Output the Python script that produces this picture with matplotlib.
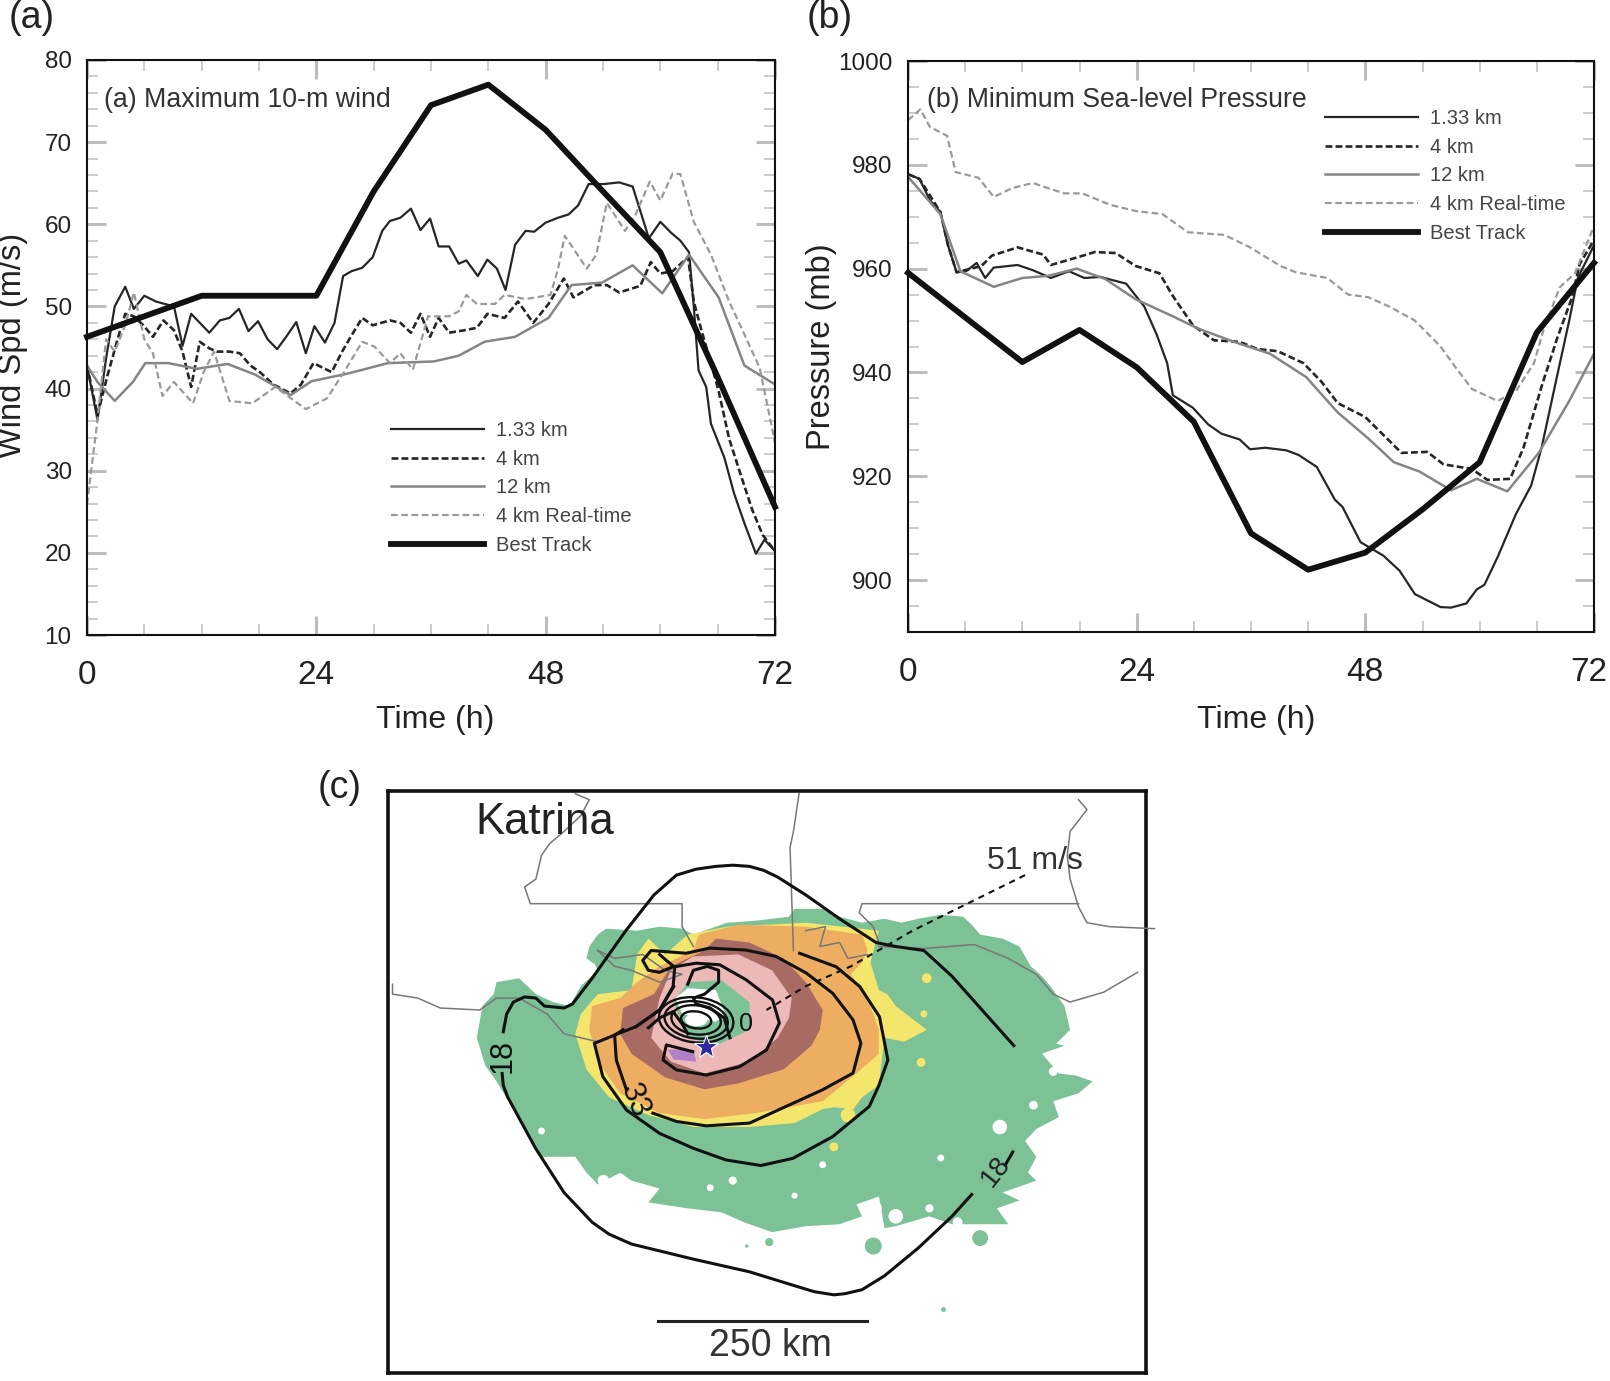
import matplotlib
matplotlib.use('Agg')
import matplotlib.pyplot as plt
from matplotlib.patches import Ellipse
from matplotlib.ticker import MultipleLocator
from matplotlib.transforms import ScaledTranslation

plt.rcParams['font.family'] = ['Liberation Sans', 'DejaVu Sans']

W, H = 1610, 1381

# ======================
# PANEL (a) - max wind
# ======================
a_t_133 = [0,1.1,2,2.9,4,4.9,6,7.2,9.1,10,10.9,12.8,13.9,14.9,15.9,16.9,17.9,18.9,19.9,20.9,21.9,22.9,23.8,24.9,25.9,26.8,27.7,28.8,29.9,30.9,31.7,32.8,33.9,34.9,35.9,36.8,37.9,38.9,39.7,40.9,41.9,42.9,43.8,44.8,45.9,46.8,48,49.3,50.4,51.4,52.5,54.1,55.7,57.1,58.8,60,61.1,62.1,63,63.5,64,64.8,65.3,66.7,67.7,68.8,70,70.9,72]
a_v_133 = [42.8,36.2,43.7,50,52.4,49.7,51.3,50.6,50,45.2,49.1,46.8,48.3,48.6,49.7,47,48.2,46,44.8,46.4,48.1,44.3,47.6,45.6,48,53.7,54.3,54.7,56,59.2,60.4,60.8,61.9,59.3,60.7,57.3,57.3,55.2,55.6,53.7,55.7,54.6,52,57.5,59.2,59.1,60.2,60.8,61.2,62.3,64.9,64.9,65.1,64.6,58.3,60.3,59,58,56.6,50,42.2,40.2,35.7,31.6,27.3,23.6,19.9,21.6,20.2]
a_t_4 = [0,1.1,2.1,3.2,4,4.9,5.9,6.9,8,9.1,10,10.9,11.8,12.8,13.6,14.9,16,17.1,18.1,19.5,21.3,22.4,23.7,25.6,26.7,27.7,28.8,29.9,31.7,32.8,33.9,34.9,35.9,36.8,37.9,39.5,40.8,41.9,43.7,45.1,46.7,48.3,49.9,50.9,53.1,54.4,55.7,57.9,59,60,61.3,62.9,63.5,64.3,65.3,66.1,67.2,68.3,69.6,70.7,72]
a_v_4 = [42.8,36.8,41.4,46,49.1,48.8,47.7,46.3,48.3,47.1,44.5,40.2,45.7,44.9,44.5,44.5,44.3,42.8,42,40.5,39.4,40.5,43.1,42,44.5,46.5,48.6,47.7,48.3,48,46.8,49.1,46.3,48.6,46.8,47.1,47.4,49.1,48.6,50.6,48,50.3,53.4,51.1,52.6,52.6,51.7,52.5,55.4,54,54.3,56,50.6,47.1,43.1,39.7,33.9,29.9,25.3,22.2,20.2]
a_t_12 = [0,1.1,2.9,4.8,6.1,8.5,11.5,14.7,17.6,21.3,23.5,27.2,31.5,36.3,38.9,41.6,44.8,48.3,50.7,53.9,57.1,60.2,63,66.1,68.8,72]
a_v_12 = [42.8,40.8,38.5,40.8,43.1,43.1,42.4,43,41.7,39.2,40.9,41.8,43.1,43.3,44,45.7,46.3,48.6,52.6,52.9,55,51.6,56.3,51.1,42.8,40.5]
a_t_rt = [0,1.1,2,2.9,4,4.9,6,6.9,7.9,9.1,11.1,12.2,13.3,14.9,17.3,19.7,22.9,25.1,26.9,28.8,30.1,31.7,32.8,34.1,35.7,37.9,38.9,39.7,40.8,42.7,43.7,45.9,48.5,49.3,50,52.3,53.3,54.4,56.3,57.3,58.9,60,61.3,62.1,63.5,65.3,67.2,68.8,70.4,72]
a_v_rt = [25.9,36.2,46,44.5,47.7,51.7,46,44.3,39.1,40.8,38.2,42,44.5,38.5,38.2,40.2,37.5,38.8,42,45.7,45.1,43.1,44.3,42.3,48.8,48.8,49.4,51.4,50.3,50.3,51.4,50.9,51.4,54.6,58.6,54.6,56.3,62.6,59.2,60.9,65.2,62.9,66.2,66.1,60.3,56.3,50.6,46.6,42.5,33.4]
a_t_best = [0,12,24,30,36,42,48,54,60,66,72]
a_v_best = [46.3,51.3,51.3,64,74.5,77,71.5,64,56.6,41.4,25.6]

# ======================
# PANEL (b) - min pressure
# ======================
b_t_133 = [0,1.2,2.3,3.4,4.2,5.1,6.1,7.2,8.1,9,11.5,13.1,15,16.9,18.5,20.2,22.9,24.8,26.1,27.2,27.8,29.9,31.5,32.9,34.8,35.9,37.5,39.7,41,42.9,44.8,45.6,47.5,49.9,51.6,53.2,55.9,57,58.6,59.7,60.5,61.9,63.8,65.4,66.5,68.1,69.4,70.3,72]
b_p_133 = [978.2,977.3,973.2,970.9,964.5,959.3,959.5,961.1,958.2,960.2,960.7,959.7,958.2,959.5,958.2,958.4,957.1,952.7,947.3,941.8,935.6,933.2,930,928.2,927.1,925.2,925.5,925,924.1,921.8,915.5,914.1,907.3,904.7,901.8,897.3,894.8,894.7,895.5,898.2,899.1,904.5,912.7,918.2,925.5,939.1,950,958.2,964.5]
b_t_4 = [0,1.2,3.4,4.2,5.1,7.7,8.8,11.5,14.2,15,18,19.6,21.8,23.9,26.4,27.7,29.9,32.1,34.8,36.7,38.8,41.5,43.4,45.1,48,51.8,54.5,56.2,59.2,60.8,63.2,64.6,66.5,68.1,69.7,70.5,72]
b_p_4 = [978.2,977.3,970.9,964.5,959.3,960.5,962.5,964.1,962.7,960.7,962.3,963.2,963,960.5,959.1,955,949.1,946.2,945.9,944.5,944.1,941.8,938.2,934.1,931.4,924.5,924.7,922.3,921.4,919.3,919.5,925.5,937.3,946.4,954.5,960.9,965.5]
b_t_12 = [0,3.4,5.5,9,12,14.7,17.7,20.7,23.9,27.7,30.4,34.2,38,41.8,45.1,48.3,51,53.7,57,59.7,62.9,66.2,69.4,72]
b_p_12 = [977.7,970.5,959.5,956.5,958.2,958.6,960,958,954.1,950.9,948.5,945.9,943.6,939.1,932.3,927.3,922.7,920.9,917.3,919.5,917.1,924.5,934.5,943.6]
b_t_rt = [0,1.3,2.3,4.1,5,7.4,9,10.9,13.1,14.7,16.4,18.3,21.2,23.9,26.7,29.4,33.2,35.9,39.1,40.7,44,46.2,48.3,50.5,53.2,55.9,57.5,59.2,61.9,63.8,65.7,66.7,68.4,70,72]
b_p_rt = [988.6,990.7,987.3,985.6,978.6,977.5,973.8,975.5,976.5,975.5,974.5,974.5,972.3,971.1,970.5,967,966.5,964.1,960.5,959.3,958.2,955,954.5,952.7,950,945,940.9,936.8,934.5,936.4,941.8,948.2,956.4,959.1,968.2]
b_t_best = [0,12,18,24,30,36,42,48,54,60,66,72]
b_p_best = [959.2,942,948.2,941,930.5,909,902,905.3,913.6,922.7,947.7,961.1]

series_labels = ['1.33 km', '4 km', '12 km', '4 km Real-time', 'Best Track']

# ======================
# PANEL (c) - map, traced outlines
# ======================
green_x = [320,325,345,350,390,405,420,450,480,490,500,530,525,510,515,530,545,600,640,680,700,730,760,810,870,880,930,960,1000,1040,1070,1100,1140,1180,1195,1210,1250,1280,1290,1300,1320,1335,1360,1370,1345,1360,1320,1335,1350,1380,1410,1385,1340,1350,1310,1290,1310,1295,1310,1250,1280,1240,1260,1210,1160,1120,1060,1040,1030,990,1000,960,900,840,790,750,690,620,640,590,570,530,510,490,430,410,380,350,330,315]
green_y = [660,620,590,560,550,570,590,610,620,595,570,530,515,500,470,440,425,430,420,425,440,425,410,405,395,375,375,395,410,400,410,400,390,395,415,440,450,470,495,520,545,570,620,680,715,720,740,765,790,795,810,840,860,900,930,960,1000,1040,1060,1090,1110,1130,1170,1170,1170,1150,1175,1180,1100,1120,1150,1170,1175,1190,1165,1140,1130,1115,1080,1060,1040,1070,1040,1000,1000,950,880,810,770,700]
yellow_x = [490,500,530,590,600,620,650,690,760,900,1030,1015,1030,1045,1060,1115,1075,1040,1030,1000,985,950,930,880,800,700,620,550,510]
yellow_y = [690,640,590,580,490,450,490,440,420,410,430,510,580,590,620,680,710,700,820,850,880,875,880,915,925,925,895,850,780]
orange_x = [515,520,570,600,640,700,710,780,900,1000,1010,1000,980,1010,1030,1030,990,930,810,720,640,570,530]
orange_y = [680,620,600,560,520,480,440,415,420,440,480,510,540,600,680,740,790,860,890,905,890,840,760]
brown_x = [570,575,630,660,720,740,800,860,900,930,925,910,860,780,720,650,590]
brown_y = [690,625,590,520,480,450,460,500,560,630,680,720,780,815,830,800,740]
pink_x = [625,640,660,700,780,840,875,870,850,800,720,660]
pink_y = [700,600,530,495,490,530,600,650,700,760,790,760]
core_x = [665,690,750,800,800,740,690]
core_y = [610,560,555,610,680,720,700]
eye_x = [668,690,740,757,740,680]
eye_y = [600,575,580,640,660,640]
purple_x = [655,700,705,665]
purple_y = [730,730,760,755]

hole_x = [430,1245,1140,1340,1305,770,730,880,930,540,1020,1060,1170,1120]
hole_y = [935,925,1003,785,870,1060,1078,1098,1020,1060,1130,1150,1165,1130]
hole_s = [25,110,25,40,40,35,25,20,25,70,150,110,50,35]
spot_x = [835,1020,1210,1145,795]
spot_y = [1215,1225,1205,1385,1225]
spot_s = [35,150,130,12,6]
yellow_spot_x = [1105,1115,1025,975,950,1110,995]
yellow_spot_y = [762,550,715,895,975,640,825]
yellow_spot_s = [40,50,70,110,40,25,90]

c18_x = [1195,1160,1100,1040,1000,970,950,915,880,800,700,590,550,520,470,420,370,362,360]
c18_y = [1095,1150,1230,1300,1335,1345,1348,1340,1325,1290,1258,1220,1195,1165,1090,980,850,820,790]
c18b_x = [362,368,380,400,420,435,470,485,520,580,605,630,650,670,705,740,770,800,825,850,900,960,1025,1060,1110,1160,1270]
c18b_y = [685,640,610,597,600,620,625,615,550,430,385,340,315,290,275,268,265,268,278,295,340,400,460,470,480,545,720]
c18c_x = [1268,1255]
c18c_y = [988,1020]
c26_x = [889,954,996,1031,1046,1030,1013,948,877,820,758,699,640,581,539,524,557,598,640,665]
c26_y = [487,521,571,647,756,820,873,949,1004,1022,1008,978,941,882,798,714,695,672,630,571]
c33_x = [628,670,723,800,865,930,984,998,984,948,901,847,794,729,687,652,625,610,620,640,665,652,640]
c33_y = [890,911,922,915,873,831,789,714,655,588,537,495,479,474,487,483,480,505,530,535,520,505,490]
c33b_x = [581,563,560,575]
c33b_y = [831,756,693,680]
c42_x = [699,652,646,670,723,782,830,853,841,794,747,705,667,664,640,598]
c42_y = [735,718,756,781,794,773,731,663,605,554,516,512,521,571,630,672]
c42b_x = [620,640,664,680,690]
c42b_y = [675,650,634,665,690]
curl_x = [690,700,725,745,745,720,700,705,730,755,765]
curl_y = [565,530,520,530,560,590,600,615,625,650,700]

ring_w = [55,90,115,135]
ring_h = [42,72,92,112]
ring_cx = 705
ring_cy = 655

line_coast_x = [490,515,500,470,445,430,420,400,410,680,680,700]
line_coast_y = [85,100,140,180,210,240,300,320,362,362,420,470]
line_border_x = [888,878,872,878]
line_border_y = [85,180,220,480]
line_east_x = [1385,1400,1370,1365,1370,1385,1400,1440,1520]
line_east_y = [100,125,180,240,300,370,410,420,425]
line_mid_x = [1030,1020,995,1000,1385]
line_mid_y = [460,420,385,362,362]
line_wcoast_x = [165,165,210,250,320,350,390,440,470,500,530]
line_wcoast_y = [565,590,600,625,630,600,600,640,690,700,710]
line_ecoast_x = [1030,1110,1200,1260,1310,1340,1370,1430,1490]
line_ecoast_y = [470,475,465,500,540,590,610,585,535]
line_inner_x = [900,935,925,960,975,1010]
line_inner_y = [430,420,470,460,500,490]
line_delta_x = [530,560,610,650,680,640,590,560,530]
line_delta_y = [480,500,490,530,540,560,530,520,480]

track_x = [1290,1190,1090,980,900,830]
track_y = [290,360,430,520,570,630]
scale_x = [637,1008]
scale_y = [1414,1414]
star_x = [722]
star_y = [724]

# ======================
# FUNCTIONS
# ======================

def axes_px(fig, left, top, right, bottom):
    return fig.add_axes([left / W, 1 - bottom / H, (right - left) / W, (bottom - top) / H])


def style_time_axes(ax, ylim, y_major, y_minor):
    ax.set_xlim(0, 72)
    ax.set_ylim(*ylim)
    ax.xaxis.set_major_locator(MultipleLocator(24))
    ax.xaxis.set_minor_locator(MultipleLocator(6))
    ax.yaxis.set_major_locator(MultipleLocator(y_major))
    ax.yaxis.set_minor_locator(MultipleLocator(y_minor))
    ax.tick_params(which='major', direction='in', top=True, right=True, length=14,
                   width=2.2, color='#bdbdbd')
    ax.tick_params(which='minor', direction='in', top=True, right=True, length=8,
                   width=1.2, color='#c4c4c4')
    ax.tick_params(axis='x', which='major', labelsize=24, labelcolor='#222222', pad=18)
    ax.tick_params(axis='y', which='major', labelsize=17.5, labelcolor='#222222', pad=11)
    for s in ax.spines.values():
        s.set_linewidth(1.5)
        s.set_color('#111111')


def draw_lines(ax, sets):
    styles = [dict(color='#262626', lw=1.6),
              dict(color='#262626', lw=1.9, ls=(0, (2.6, 1.2))),
              dict(color='#858585', lw=1.8),
              dict(color='#9a9a9a', lw=1.6, ls=(0, (3, 1.6))),
              dict(color='#111111', lw=4.2)]
    for (t, v), st, lab in zip(sets, styles, series_labels):
        ax.plot(t, v, label=lab, solid_joinstyle='round', clip_on=(lab != 'Best Track'), **st)


def add_legend(ax, x_px, y_px):
    ax.legend(loc='upper left', bbox_to_anchor=(x_px / W, 1 - y_px / H),
              bbox_transform=ax.figure.transFigure, frameon=False, fontsize=14.5,
              handlelength=4.6, handletextpad=0.62, labelspacing=0.48,
              borderpad=0, borderaxespad=0, labelcolor='#444444')


def draw_map(ax):
    ax.set_xlim(157, 1505)
    ax.set_ylim(1545, 78)
    ax.set_xticks([])
    ax.set_yticks([])
    for s in ax.spines.values():
        s.set_linewidth(2.6)
        s.set_color('#111111')

    ax.fill(green_x, green_y, color='#7cc296', lw=0, zorder=1)
    ax.scatter(spot_x, spot_y, s=spot_s, color='#7cc296', lw=0, zorder=1)
    ax.scatter(hole_x, hole_y, s=hole_s, color='white', lw=0, zorder=1.5)
    ax.scatter(yellow_spot_x, yellow_spot_y, s=yellow_spot_s, color='#f4e56c', lw=0, zorder=1.6)
    ax.fill(yellow_x, yellow_y, color='#f4e56c', lw=0, zorder=2)
    ax.fill(orange_x, orange_y, color='#edae62', lw=0, zorder=3)
    ax.fill(brown_x, brown_y, color='#a86b64', lw=0, zorder=4)
    ax.fill(pink_x, pink_y, color='#ecb8b8', lw=0, zorder=5)
    ax.fill(core_x, core_y, color='#7cc296', lw=0, zorder=6)
    ax.fill(eye_x, eye_y, color='white', lw=0, zorder=7)
    ax.fill(purple_x, purple_y, color='#b27fc9', lw=0, zorder=7)

    for x, y in [(line_coast_x, line_coast_y), (line_border_x, line_border_y),
                 (line_east_x, line_east_y), (line_mid_x, line_mid_y),
                 (line_wcoast_x, line_wcoast_y), (line_ecoast_x, line_ecoast_y),
                 (line_inner_x, line_inner_y), (line_delta_x, line_delta_y)]:
        ax.plot(x, y, color='#777777', lw=1.1, zorder=8, clip_on=False)

    for x, y in [(c18_x, c18_y), (c18b_x, c18b_y), (c18c_x, c18c_y), (c26_x, c26_y),
                 (c33_x, c33_y), (c33b_x, c33b_y), (c42_x, c42_y), (c42b_x, c42b_y),
                 (curl_x, curl_y)]:
        ax.plot(x, y, color='#111111', lw=2.2, zorder=9, solid_joinstyle='round')
    ax.add_patch(Ellipse((ring_cx, ring_cy), 40, 32, color='white', lw=0, zorder=8.5))
    for w, h in zip(ring_w, ring_h):
        ax.add_patch(Ellipse((ring_cx, ring_cy), w, h, angle=20, facecolor='none',
                             edgecolor='#111111', lw=1.7, zorder=9))

    ax.plot(track_x, track_y, color='#111111', lw=1.5, ls=(0, (3, 2.5)), zorder=9)
    ax.plot(star_x, star_y, marker='*', ms=18, color='#2b2b9e', mec='white', mew=0.8, ls='none', zorder=10)
    ax.plot(scale_x, scale_y, color='#222222', lw=2.2, zorder=9)

    ax.text(435, 157, 'Katrina', fontsize=31.5, ha='center', va='center', color='#222222', zorder=11)
    ax.text(1308, 255, '51 m/s', fontsize=23, ha='center', va='center', color='#333333', zorder=11)
    ax.text(838, 1478, '250 km', fontsize=27, ha='center', va='center', color='#333333', zorder=11)
    ax.text(360, 745, '18', fontsize=22, rotation=90, ha='center', va='center', color='#111111', zorder=11)
    ax.text(1238, 1038, '18', fontsize=20, rotation=52, ha='center', va='center', color='#222222', zorder=11)
    ax.text(595, 860, '33', fontsize=22, rotation=-68, ha='center', va='center', color='#111111', zorder=11)
    ax.text(793, 665, '0', fontsize=18, ha='center', va='center', color='#111111', zorder=11)


def generate_graph():
    fig = plt.figure(figsize=(W / 100, H / 100), dpi=100)

    ax_a = axes_px(fig, 87, 60, 775, 635)
    draw_lines(ax_a, [(a_t_133, a_v_133), (a_t_4, a_v_4), (a_t_12, a_v_12),
                      (a_t_rt, a_v_rt), (a_t_best, a_v_best)])
    style_time_axes(ax_a, (10, 80), 10, 2)
    add_legend(ax_a, 391, 421)
    ax_a.text(0.024, 0.93, '(a) Maximum 10-m wind', transform=ax_a.transAxes, fontsize=19.3,
              ha='left', va='center', color='#333333')

    ax_b = axes_px(fig, 908, 61, 1594, 632)
    draw_lines(ax_b, [(b_t_133, b_p_133), (b_t_4, b_p_4), (b_t_12, b_p_12),
                      (b_t_rt, b_p_rt), (b_t_best, b_p_best)])
    style_time_axes(ax_b, (890, 1000), 20, 5)
    add_legend(ax_b, 1325, 109)
    ax_b.text(0.027, 0.931, '(b) Minimum Sea-level Pressure', transform=ax_b.transAxes, fontsize=19.2,
              ha='left', va='center', color='#333333')
    # the 72 sits right at the image edge, nudge it in so it is not cut
    fig.canvas.draw()
    last = [t for t in ax_b.get_xticklabels() if t.get_text() == '72'][0]
    last.set_transform(last.get_transform() + ScaledTranslation(-4 / 72, 0, fig.dpi_scale_trans))

    ax_c = axes_px(fig, 388, 791, 1146, 1373)
    draw_map(ax_c)

    for txt, x, y, size in [('(a)', 32, 18, 27), ('(b)', 830, 18, 27), ('(c)', 340, 788, 27),
                            ('Time (h)', 435, 720, 23), ('Time (h)', 1256, 720, 23)]:
        fig.text(x / W, 1 - y / H, txt, fontsize=size, ha='center', va='center', color='#222222')
    fig.text(13 / W, 1 - 345 / H, 'Wind Spd (m/s)', fontsize=23.5, rotation=90, ha='center', va='center', color='#222222')
    fig.text(821 / W, 1 - 347 / H, 'Pressure (mb)', fontsize=23.5, rotation=90, ha='center', va='center', color='#222222')

    fig.savefig('out.png', dpi=100)


if __name__ == '__main__':
    generate_graph()
